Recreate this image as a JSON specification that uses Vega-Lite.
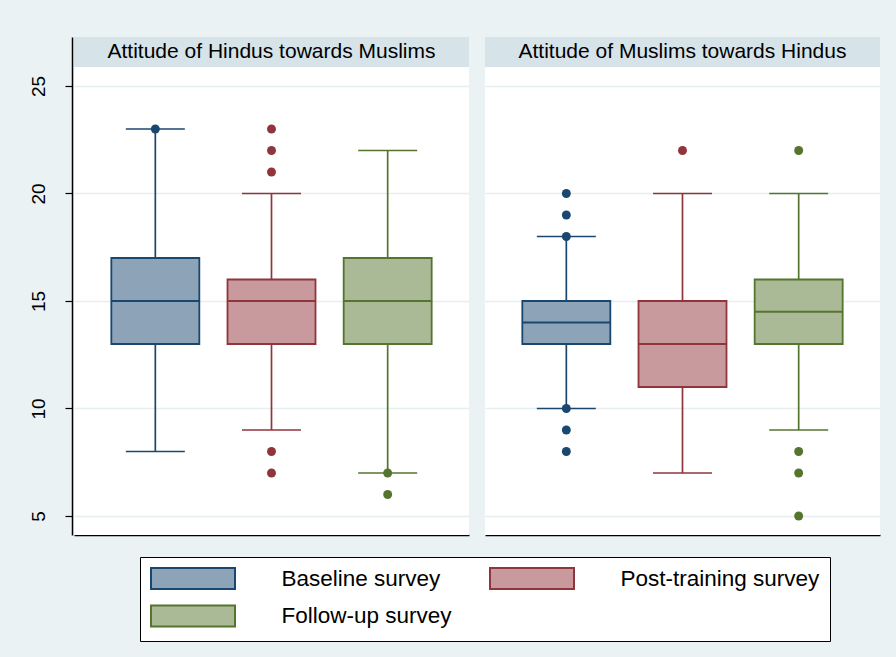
{
  "$schema": "https://vega.github.io/schema/vega-lite/v6.json",
  "background": "#eaf2f3",
  "padding": {"left": 29, "top": 37, "right": 18, "bottom": 25},
  "config": {"font": "Liberation Sans"},
  "data": {"values": [
    {"panel": "H", "label": "Attitude of Hindus towards Muslims"},
    {"panel": "M", "label": "Attitude of Muslims towards Hindus"},
    {"panel": "H", "survey": "Baseline survey", "lo": 8, "q1": 13, "median": 15, "q3": 17, "hi": 23},
    {"panel": "H", "survey": "Post-training survey", "lo": 9, "q1": 13, "median": 15, "q3": 16, "hi": 20},
    {"panel": "H", "survey": "Follow-up survey", "lo": 7, "q1": 13, "median": 15, "q3": 17, "hi": 22},
    {"panel": "M", "survey": "Baseline survey", "lo": 10, "q1": 13, "median": 14, "q3": 15, "hi": 18},
    {"panel": "M", "survey": "Post-training survey", "lo": 7, "q1": 11, "median": 13, "q3": 15, "hi": 20},
    {"panel": "M", "survey": "Follow-up survey", "lo": 9, "q1": 13, "median": 14.5, "q3": 16, "hi": 20},
    {"panel": "H", "survey": "Baseline survey", "value": 23},
    {"panel": "H", "survey": "Post-training survey", "value": 23},
    {"panel": "H", "survey": "Post-training survey", "value": 22},
    {"panel": "H", "survey": "Post-training survey", "value": 21},
    {"panel": "H", "survey": "Post-training survey", "value": 8},
    {"panel": "H", "survey": "Post-training survey", "value": 7},
    {"panel": "H", "survey": "Follow-up survey", "value": 7},
    {"panel": "H", "survey": "Follow-up survey", "value": 6},
    {"panel": "M", "survey": "Baseline survey", "value": 20},
    {"panel": "M", "survey": "Baseline survey", "value": 19},
    {"panel": "M", "survey": "Baseline survey", "value": 18},
    {"panel": "M", "survey": "Baseline survey", "value": 10},
    {"panel": "M", "survey": "Baseline survey", "value": 9},
    {"panel": "M", "survey": "Baseline survey", "value": 8},
    {"panel": "M", "survey": "Post-training survey", "value": 22},
    {"panel": "M", "survey": "Follow-up survey", "value": 22},
    {"panel": "M", "survey": "Follow-up survey", "value": 8},
    {"panel": "M", "survey": "Follow-up survey", "value": 7},
    {"panel": "M", "survey": "Follow-up survey", "value": 5}
  ]},
  "facet": {"column": {"field": "panel", "type": "nominal", "sort": ["H", "M"], "header": {"title": null, "labels": false}}},
  "spacing": {"column": 15},
  "spec": {
    "width": 395,
    "height": 498,
    "view": {"fill": "white", "stroke": null},
    "layer": [
      {
        "transform": [{"filter": "datum.label != null"}],
        "mark": {"type": "rect", "color": "#d6e3e9"},
        "encoding": {
          "y": {"datum": 25.884, "type": "quantitative", "scale": {"domain": [4.116, 27.279], "nice": false, "zero": false}, "axis": {"title": null, "values": [5, 10, 15, 20, 25], "grid": true, "gridColor": "#e6eef0", "gridWidth": 1.5, "domain": true, "domainColor": "black", "domainWidth": 1.5, "offset": 1, "ticks": true, "tickColor": "black", "tickSize": 7, "tickWidth": 1.2, "labels": true, "labelAngle": -90, "labelAlign": "center", "labelBaseline": "alphabetic", "labelFont": "Liberation Sans", "labelFontSize": 19, "labelColor": "black", "labelPadding": 21, "labelOverlap": false, "labelFlush": false}},
          "y2": {"datum": 27.279}
        }
      },
      {
        "transform": [{"filter": "datum.label != null"}],
        "mark": {"type": "text", "font": "Liberation Sans", "fontSize": 21, "color": "black", "baseline": "middle", "align": "center"},
        "encoding": {
          "text": {"field": "label"},
          "y": {"datum": 26.582, "type": "quantitative"}
        }
      },
      {
        "transform": [{"filter": "datum.q1 != null"}],
        "mark": {"type": "rule", "strokeWidth": 1.7},
        "encoding": {
          "x": {"field": "survey", "type": "nominal", "scale": {"type": "point", "padding": 0.7, "domain": ["Baseline survey", "Post-training survey", "Follow-up survey"]}, "axis": {"title": null, "labels": false, "ticks": false, "grid": false, "domain": true, "domainColor": "black", "domainWidth": 1.5}},
          "y": {"field": "lo", "type": "quantitative"},
          "y2": {"field": "hi"},
          "color": {"field": "survey", "type": "nominal", "scale": {"domain": ["Follow-up survey", "Post-training survey", "Baseline survey"], "range": ["#55752f", "#90353b", "#1a476f"]}, "legend": null}
        }
      },
      {
        "transform": [{"filter": "datum.q1 != null"}],
        "mark": {"type": "bar", "size": 88, "strokeWidth": 1.8, "opacity": 1},
        "encoding": {
          "x": {"field": "survey", "type": "nominal"},
          "y": {"field": "q1", "type": "quantitative"},
          "y2": {"field": "q3"},
          "fill": {"field": "survey", "type": "nominal", "title": null, "scale": {"domain": ["Baseline survey", "Follow-up survey", "Post-training survey"], "range": ["#8ca3b8", "#aaba97", "#c89a9d"]},
            "legend": {"orient": "none", "legendX": 66, "legendY": 520, "title": null, "columns": 2, "symbolType": "M-4,-1H4V1H-4Z", "symbolSize": 441, "symbolStrokeWidth": 2, "symbolOffset": 31.5, "symbolOpacity": 1, "labelFont": "Liberation Sans", "labelFontSize": 22.5, "labelColor": "black", "labelOffset": 77, "columnPadding": 34, "rowPadding": 8.5, "padding": 10, "strokeColor": "black", "fillColor": "white", "labelLimit": 400}},
          "stroke": {"field": "survey", "type": "nominal", "title": null, "scale": {"domain": ["Baseline survey", "Follow-up survey", "Post-training survey"], "range": ["#1a476f", "#55752f", "#90353b"]},
            "legend": {"orient": "none", "legendX": 66, "legendY": 520, "title": null, "columns": 2, "symbolType": "M-4,-1H4V1H-4Z", "symbolSize": 441, "symbolStrokeWidth": 2, "symbolOffset": 31.5, "symbolOpacity": 1, "labelFont": "Liberation Sans", "labelFontSize": 22.5, "labelColor": "black", "labelOffset": 77, "columnPadding": 34, "rowPadding": 8.5, "padding": 10, "strokeColor": "black", "fillColor": "white", "labelLimit": 400}}
        }
      },
      {
        "transform": [{"filter": "datum.q1 != null"}],
        "mark": {"type": "tick", "size": 88, "thickness": 1.8, "opacity": 1},
        "encoding": {
          "x": {"field": "survey", "type": "nominal"},
          "y": {"field": "median", "type": "quantitative"},
          "color": {"field": "survey", "type": "nominal", "legend": null}
        }
      },
      {
        "transform": [{"filter": "datum.q1 != null"}],
        "mark": {"type": "tick", "size": 59, "thickness": 1.7, "opacity": 1},
        "encoding": {
          "x": {"field": "survey", "type": "nominal"},
          "y": {"field": "lo", "type": "quantitative"},
          "color": {"field": "survey", "type": "nominal", "legend": null}
        }
      },
      {
        "transform": [{"filter": "datum.q1 != null"}],
        "mark": {"type": "tick", "size": 59, "thickness": 1.7, "opacity": 1},
        "encoding": {
          "x": {"field": "survey", "type": "nominal"},
          "y": {"field": "hi", "type": "quantitative"},
          "color": {"field": "survey", "type": "nominal", "legend": null}
        }
      },
      {
        "transform": [{"filter": "datum.value != null"}],
        "mark": {"type": "circle", "size": 80, "opacity": 1},
        "encoding": {
          "x": {"field": "survey", "type": "nominal"},
          "y": {"field": "value", "type": "quantitative"},
          "color": {"field": "survey", "type": "nominal", "legend": null}
        }
      }
    ]
  }
}
